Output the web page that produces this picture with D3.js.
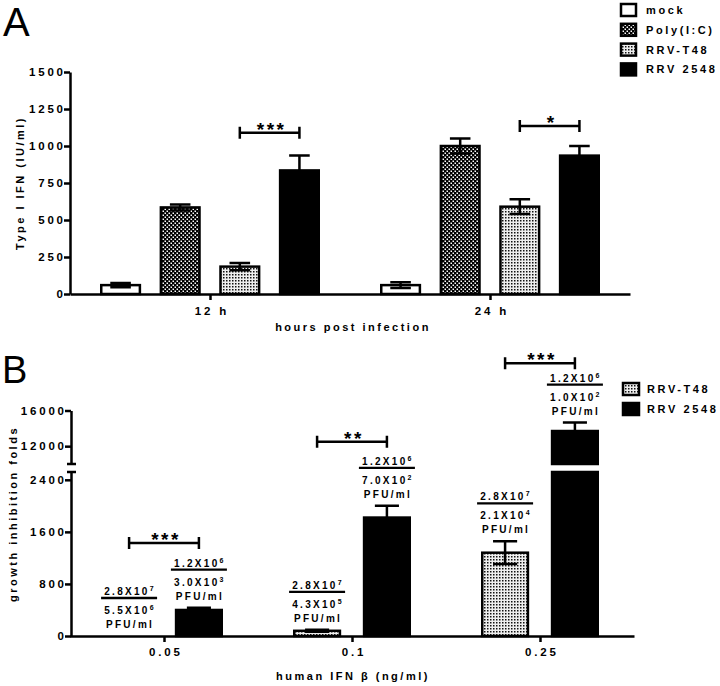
<!DOCTYPE html>
<html>
<head>
<meta charset="utf-8">
<script src="https://cdn.jsdelivr.net/npm/d3@7"></script>
<style>
body { margin: 0; background: #fff; }
svg text { font-family: "Liberation Sans", Arial, sans-serif; font-weight: bold; fill: #000; }
</style>
</head>
<body>
<svg id="fig" width="720" height="686"></svg>
<script>
// ---- panel A: type I IFN ----
const groupsA = ['12 h', '24 h'];
const seriesA = ['mock', 'Poly(I:C)', 'RRV-T48', 'RRV 2548'];
const meanA = [[60, 585, 185, 835], [60, 1000, 590, 935]];
const semA = [[15, 20, 25, 100], [20, 50, 50, 65]];
const ticksA = [0, 250, 500, 750, 1000, 1250, 1500];
const starsA = ['***', '*'];
const starLevelA = [1090, 1135];

// ---- panel B: growth inhibition ----
const groupsB = ['0.05', '0.1', '0.25'];
const seriesB = ['RRV-T48', 'RRV 2548'];
const meanB = [[0, 400], [80, 1820], [1280, 13700]];
const semB = [[0, 35], [15, 180], [175, 950]];
const ticksBLow = [0, 800, 1600, 2400];
const ticksBHigh = [12000, 16000];
const starsB = ['***', '**', '***'];
const starLevelB = [1430, 12500, 21300];
const titreTop = [[['2.8', '7'], ['1.2', '6']], [['2.8', '7'], ['1.2', '6']], [['2.8', '7'], ['1.2', '6']]];
const titreBottom = [[['5.5', '6'], ['3.0', '3']], [['4.3', '5'], ['7.0', '2']], [['2.1', '4'], ['1.0', '2']]];

const LS = 2.8; // letter spacing of the prism-style labels
const FS = 11.5;

const svg = d3.select('#fig');
const defs = svg.append('defs');

// checker pattern for Poly(I:C)
const checks = defs.append('pattern').attr('id', 'checks')
    .attr('patternUnits', 'userSpaceOnUse').attr('width', 4).attr('height', 4);
checks.append('rect').attr('width', 4).attr('height', 4).attr('fill', '#000');
checks.append('rect').attr('x', 0.5).attr('y', 0.5).attr('width', 1.5).attr('height', 1.5).attr('fill', '#fff');
checks.append('rect').attr('x', 2.5).attr('y', 2.5).attr('width', 1.5).attr('height', 1.5).attr('fill', '#fff');

// fine dots for RRV-T48
const dots = defs.append('pattern').attr('id', 'dots')
    .attr('patternUnits', 'userSpaceOnUse').attr('width', 3).attr('height', 3);
dots.append('rect').attr('width', 3).attr('height', 3).attr('fill', '#eee');
dots.append('rect').attr('x', 1).attr('y', 1).attr('width', 1.5).attr('height', 1.5).attr('fill', '#111');

const fills = {'mock': '#fff', 'Poly(I:C)': 'url(#checks)', 'RRV-T48': 'url(#dots)', 'RRV 2548': '#000'};

function styleAxis(g) {
    g.attr('font-size', FS).attr('font-family', null);
    g.selectAll('path, line').attr('stroke', '#000').attr('stroke-width', 2.5);
    g.selectAll('text').attr('letter-spacing', LS);
}

function errorBar(g, cx, y0, y1, w) {
    g.append('path')
     .attr('d', `M${cx},${y0}V${y1}M${cx - w / 2},${y0}H${cx + w / 2}M${cx - w / 2},${y1}H${cx + w / 2}`)
     .attr('stroke', '#000').attr('stroke-width', 2.5).attr('fill', 'none');
}

function bracket(g, xa, xb, y, stars) {
    g.append('path')
     .attr('d', `M${xa},${y}H${xb}M${xa},${y - 6}V${y + 6}M${xb},${y - 6}V${y + 6}`)
     .attr('stroke', '#000').attr('stroke-width', 2.5).attr('fill', 'none');
    g.append('text').attr('x', (xa + xb) / 2 + 2).attr('y', y + 3)
     .attr('text-anchor', 'middle').attr('font-size', 19).attr('letter-spacing', 2.5)
     .text(stars);
}

const fmt = d3.format('d');

// ================= PANEL A =================
const xA = d3.scalePoint(groupsA, [70, 630]).padding(0.5);
const xA1 = d3.scaleBand(seriesA, [-110, 110]).paddingInner(0.31);
const yA = d3.scaleLinear([0, 1500], [294, 72]);

svg.append('text').attr('x', 3).attr('y', 36).attr('font-size', 40)
   .style('font-weight', 'normal').text('A');

const rowsA = groupsA.flatMap((g, gi) => seriesA.map((s, si) => ({g, s, v: meanA[gi][si], e: semA[gi][si]})));

const barsA = svg.append('g');
barsA.selectAll('rect').data(rowsA).join('rect')
    .attr('x', d => xA(d.g) + xA1(d.s) + 1.25)
    .attr('y', d => yA(d.v))
    .attr('width', xA1.bandwidth() - 2.5)
    .attr('height', d => yA(0) - yA(d.v))
    .attr('fill', d => fills[d.s])
    .attr('stroke', '#000').attr('stroke-width', 2.5);

rowsA.forEach(d => {
    errorBar(barsA, xA(d.g) + xA1(d.s) + xA1.bandwidth() / 2, yA(d.v - d.e), yA(d.v + d.e), xA1.bandwidth() / 2);
});

groupsA.forEach((g, gi) => {
    const xa = xA(g) + xA1('RRV-T48') + xA1.bandwidth() / 2;
    const xb = xA(g) + xA1('RRV 2548') + xA1.bandwidth() / 2;
    bracket(svg, xa, xb, yA(starLevelA[gi]), starsA[gi]);
});

svg.append('g').attr('transform', 'translate(70,0)')
   .call(d3.axisLeft(yA).tickValues(ticksA).tickFormat(fmt).tickSize(6).tickPadding(1).tickSizeOuter(0))
   .call(styleAxis)
   .call(g => g.selectAll('text').attr('dx', LS));

svg.append('g').attr('transform', `translate(0,${yA(0)})`)
   .call(d3.axisBottom(xA).tickSize(6).tickPadding(7).tickSizeOuter(0))
   .call(styleAxis)
   .call(g => g.selectAll('text').attr('dx', LS / 2));

svg.append('text').attr('transform', `translate(24,${(yA(0) + yA(1500)) / 2}) rotate(-90)`)
   .attr('text-anchor', 'middle').attr('font-size', 11).attr('letter-spacing', 2.5)
   .text('Type I IFN (IU/ml)');

svg.append('text').attr('x', 353).attr('y', 331)
   .attr('text-anchor', 'middle').attr('font-size', 11).attr('letter-spacing', 2.5)
   .text('hours post infection');

const legA = svg.append('g');
seriesA.forEach((s, i) => {
    const cy = 10 + i * 19.8;
    legA.append('rect').attr('x', 621).attr('y', cy - 6).attr('width', 15).attr('height', 12)
        .attr('fill', fills[s]).attr('stroke', '#000').attr('stroke-width', 2.5);
    legA.append('text').attr('x', 646).attr('y', cy).attr('dy', '0.36em')
        .attr('font-size', 11).attr('letter-spacing', 2.6).text(s);
});

// ================= PANEL B =================
const xB = d3.scalePoint(groupsB, [70, 634]).padding(0.5);
const xB1 = d3.scaleBand(seriesB, [-59, 59]).paddingInner(0.31);
const yBLow = d3.scaleLinear([0, 2520], [636, 472]);
const yBHigh = d3.scaleLinear([10000, 16000], [464, 410.5]);
const lowMax = 2520, highMin = 10000;
const yB = v => v <= lowMax ? yBLow(v) : yBHigh(v);

svg.append('text').attr('x', 2).attr('y', 383).attr('font-size', 38)
   .style('font-weight', 'normal').text('B');

const rowsB = groupsB.flatMap((g, gi) => seriesB.map((s, si) => ({g, gi, s, si, v: meanB[gi][si], e: semB[gi][si]})));

const barsB = svg.append('g');
rowsB.forEach(d => {
    const x = xB(d.g) + xB1(d.s);
    const w = xB1.bandwidth();
    const segs = d.v <= lowMax ? [[yBLow(d.v), yBLow(0)]] : [[yBLow(lowMax), yBLow(0)], [yBHigh(d.v), yBHigh(highMin)]];
    segs.forEach(([top, bot]) => {
        if (bot - top <= 0) return;
        barsB.append('rect').attr('x', x + 1.25).attr('y', top)
             .attr('width', w - 2.5).attr('height', bot - top)
             .attr('fill', fills[d.s]).attr('stroke', '#000').attr('stroke-width', 2.5);
    });
    if (d.e > 0) errorBar(barsB, x + w / 2, yB(d.v - d.e), yB(d.v + d.e), w / 2);

    // titre annotation above each bar
    const L = yB(d.v + d.e) - 38;
    const cx = x + w / 2;
    const [nm, ne] = titreTop[d.gi][d.si];
    const [dm, de] = titreBottom[d.gi][d.si];
    const t1 = barsB.append('text').attr('x', cx + 1).attr('y', L - 3).attr('text-anchor', 'middle')
        .attr('font-size', 10).attr('letter-spacing', 2.3);
    t1.append('tspan').text(nm + 'X10');
    t1.append('tspan').attr('dy', -4).attr('font-size', 7).text(ne);
    barsB.append('line').attr('x1', cx - 28).attr('x2', cx + 28).attr('y1', L).attr('y2', L)
         .attr('stroke', '#000').attr('stroke-width', 2.3);
    const t2 = barsB.append('text').attr('x', cx + 1).attr('y', L + 16).attr('text-anchor', 'middle')
        .attr('font-size', 10).attr('letter-spacing', 2.3);
    t2.append('tspan').text(dm + 'X10');
    t2.append('tspan').attr('dy', -4).attr('font-size', 7).text(de);
    barsB.append('text').attr('x', cx + 1).attr('y', L + 30).attr('text-anchor', 'middle')
         .attr('font-size', 10).attr('letter-spacing', 2.3).text('PFU/ml');
});

groupsB.forEach((g, gi) => {
    const xa = xB(g) + xB1('RRV-T48') + xB1.bandwidth() / 2;
    const xb = xB(g) + xB1('RRV 2548') + xB1.bandwidth() / 2;
    bracket(svg, xa, xb, yB(starLevelB[gi]), starsB[gi]);
});

svg.append('g').attr('transform', 'translate(71,0)')
   .call(d3.axisLeft(yBLow).tickValues(ticksBLow).tickFormat(fmt).tickSize(6).tickPadding(1).tickSizeOuter(0))
   .call(styleAxis)
   .call(g => g.selectAll('text').attr('dx', LS));

svg.append('g').attr('transform', 'translate(71,0)')
   .call(d3.axisLeft(yBHigh).tickValues(ticksBHigh).tickFormat(fmt).tickSize(6).tickPadding(1).tickSizeOuter(0))
   .call(styleAxis)
   .call(g => g.selectAll('text').attr('dx', LS));

// axis break caps
[yBLow(lowMax), yBHigh(highMin)].forEach(y => {
    svg.append('line').attr('x1', 67).attr('x2', 76).attr('y1', y).attr('y2', y)
       .attr('stroke', '#000').attr('stroke-width', 2.5);
});

svg.append('g').attr('transform', `translate(0,${yBLow(0)})`)
   .call(d3.axisBottom(xB).tickSize(6).tickPadding(6).tickSizeOuter(0))
   .call(styleAxis)
   .call(g => g.selectAll('text').attr('dx', LS / 2));

svg.append('text').attr('transform', 'translate(17,514) rotate(-90)')
   .attr('text-anchor', 'middle').attr('font-size', 11).attr('letter-spacing', 2.5)
   .text('growth inhibition folds');

svg.append('text').attr('x', 353).attr('y', 680)
   .attr('text-anchor', 'middle').attr('font-size', 11).attr('letter-spacing', 2.5)
   .text('human IFN β (ng/ml)');

const legB = svg.append('g');
seriesB.forEach((s, i) => {
    const cy = 389 + i * 20;
    legB.append('rect').attr('x', 623).attr('y', cy - 6).attr('width', 16).attr('height', 12)
        .attr('fill', fills[s]).attr('stroke', '#000').attr('stroke-width', 2.5);
    legB.append('text').attr('x', 647).attr('y', cy).attr('dy', '0.36em')
        .attr('font-size', 11).attr('letter-spacing', 2.6).text(s);
});
</script>
</body>
</html>
